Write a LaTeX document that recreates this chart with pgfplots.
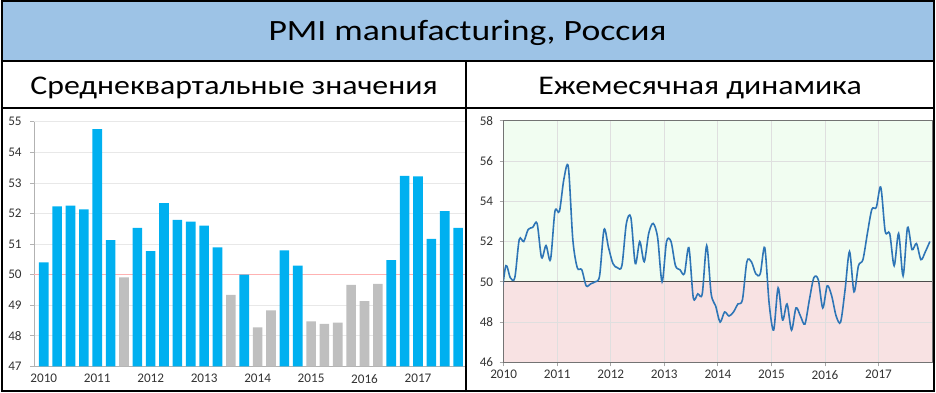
\documentclass[border=0pt]{standalone}
\usepackage{fontspec}
\setmainfont{Carlito}
\usepackage{graphicx}
\usepackage{pgfplots}
\pgfplotsset{compat=1.18}
\usepackage{pgfplotstable}
\definecolor{band}{HTML}{9DC3E6}
\definecolor{barblue}{HTML}{00B0F0}
\definecolor{bargray}{HTML}{BFBFBF}
\definecolor{linebl}{HTML}{2E75B6}
\definecolor{bggreen}{HTML}{F1FDF1}
\definecolor{bgpink}{HTML}{F8E2E3}
\definecolor{ticktext}{HTML}{333333}

% monthly PMI (k = month index from Jan 2010; k=-1 is Dec 2009)
\pgfplotstableread{
k v
-1 49.2
0 50.8
1 50.2
2 50.2
3 52.1
4 52.0
5 52.6
6 52.7
7 52.9
8 51.2
9 51.8
10 51.1
11 53.5
12 53.5
13 55.1
14 55.7
15 52.1
16 50.7
17 50.6
18 49.8
19 49.9
20 50.0
21 50.3
22 52.6
23 51.7
24 50.9
25 50.7
26 50.8
27 52.9
28 53.2
29 50.9
30 52.0
31 51.0
32 52.4
33 52.9
34 52.2
35 50.0
36 52.0
37 52.0
38 50.8
39 50.6
40 50.4
41 51.7
42 49.2
43 49.4
44 49.4
45 51.8
46 49.4
47 48.8
48 48.0
49 48.5
50 48.3
51 48.5
52 48.9
53 49.1
54 51.0
55 51.0
56 50.4
57 50.4
58 51.7
59 48.9
60 47.6
61 49.7
62 48.1
63 48.9
64 47.6
65 48.7
66 48.3
67 47.9
68 49.1
69 50.2
70 50.1
71 48.7
72 49.8
73 49.3
74 48.3
75 48.0
76 49.6
77 51.5
78 49.5
79 50.8
80 51.1
81 52.4
82 53.6
83 53.7
84 54.7
85 52.5
86 52.4
87 50.8
88 52.4
89 50.3
90 52.7
91 51.6
92 51.9
93 51.1
94 51.5
95 52.0
}\monthly

\begin{document}
\begin{tikzpicture}[x=1pt,y=1pt]
% title band and frame
\fill[band] (0,332) rectangle (936,393);
\draw[line width=1.8pt] (0,332) -- (936,332);
\draw[line width=1.5pt] (0,285) -- (936,285);
\draw[line width=1.5pt] (466,0) -- (466,332);
\draw[line width=2pt] (1,1) rectangle (935,392);
\node[anchor=base, inner sep=0pt] at (467.5,352.3) {\scalebox{1.21}[1]{\fontsize{29.5}{34}\selectfont PMI manufacturing, Россия}};
\node[anchor=base, inner sep=0pt] at (233.5,298) {\scalebox{1.18}[1]{\fontsize{27}{32}\selectfont Среднеквартальные значения}};
\node[anchor=base, inner sep=0pt] at (700.5,298) {\scalebox{1.18}[1]{\fontsize{27}{32}\selectfont Ежемесячная динамика}};

% left: quarterly bars
\begin{axis}[
  at={(33.3pt,26pt)}, anchor=south west, scale only axis,
  width=431.2pt, height=245pt,
  xmin=-0.72, xmax=31.48, ymin=47, ymax=55,
  ybar, bar width=0.72, bar shift=0pt,
  axis x line*=bottom, axis y line*=left,
  axis line style={-, draw=gray!60, line width=0.8pt},
  xtick={0,4,8,12,16,20,24,28},
  xticklabels={2010,2011,2012,2013,2014,2015,2016,2017},
  xtick style={draw=none},
  ytick={47,48,...,55},
  ytick style={draw=gray!60, line width=0.8pt},
  tick align=outside, major tick length=4pt,
  ymajorgrids, grid style={gray!18, line width=0.8pt},
  extra y ticks={50}, extra y tick labels={},
  extra y tick style={grid style={red!30, line width=0.8pt}, ytick style={draw=none}},
  tick label style={font=\fontsize{13.2}{15}\selectfont, text=ticktext},
  yticklabel style={xshift=-5pt},
  xticklabel style={yshift=-0.5pt},
  /pgf/number format/assume math mode=true,
]
\addplot[fill=barblue, draw=none] coordinates {
(0,50.40)(1,52.23)(2,52.26)(3,52.13)(4,54.76)(5,51.13)(7,51.53)(8,50.77)
(9,52.34)(10,51.79)(11,51.73)(12,51.60)(13,50.89)(15,50.00)(18,50.79)(19,50.29)
(26,50.47)(27,53.23)(28,53.21)(29,51.17)(30,52.08)(31,51.53)};
\addplot[fill=bargray, draw=none] coordinates {
(6,49.91)(14,49.34)(16,48.27)(17,48.83)(20,48.47)(21,48.39)(22,48.43)
(23,49.66)(24,49.13)(25,49.70)};
\end{axis}

% right: monthly line
\begin{axis}[
  at={(503.7pt,30pt)}, anchor=south west, scale only axis,
  width=429.3pt, height=242pt,
  xmin=0, xmax=96, ymin=46, ymax=58,
  set layers,
  xtick={0,12,24,36,48,60,72,84},
  xticklabels={2010,2011,2012,2013,2014,2015,2016,2017},
  ytick={46,48,...,58},
  xtick pos=bottom, ytick pos=left,
  tick align=outside, major tick length=4pt,
  tick style={draw=gray!70, line width=0.8pt},
  grid=major, grid style={gray!25, line width=0.8pt},
  axis line style={draw=black!55, line width=0.8pt},
  tick label style={font=\fontsize{13.2}{15}\selectfont, text=ticktext},
  yticklabel style={xshift=-3pt},
  xticklabel style={yshift=-0.5pt},
  /pgf/number format/assume math mode=true,
]
\begin{pgfonlayer}{axis background}
\fill[bggreen] (axis cs:0,50) rectangle (axis cs:96,58);
\fill[bgpink] (axis cs:0,46) rectangle (axis cs:96,50);
\end{pgfonlayer}
\draw[black!70, line width=0.9pt] (axis cs:0,50) -- (axis cs:96,50);
\addplot[linebl, line width=1.6pt, smooth, tension=0.5, mark=none]
  table[x expr=\thisrow{k}+0.5, y=v] {\monthly};
\end{axis}
\end{tikzpicture}
\end{document}
